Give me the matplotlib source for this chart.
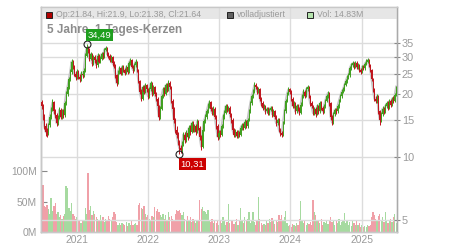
import matplotlib
matplotlib.use('Agg')
import matplotlib.pyplot as plt
import pandas as pd
from matplotlib.patches import Rectangle
from matplotlib.ticker import NullLocator

plt.rcParams['font.family'] = ['Liberation Sans', 'DejaVu Sans']

# ---------------- data (weekly candles) ----------------
first_open = 18.3
close = [
    17.5, 15.5, 14.0, 13.2, 13.0, 14.2, 15.5, 16.8, 18.2, 16.5,
    15.8, 14.5, 15.5, 16.8, 15.5, 16.5, 15.8, 18.0, 20.0, 21.5,
    23.5, 25.5, 28.5, 27.0, 25.0, 24.0, 25.5, 24.2, 23.5, 25.0,
    24.5, 25.8, 30.5, 33.0, 32.5, 29.5, 31.0, 28.0, 30.0, 29.0,
    27.5, 30.5, 28.5, 29.5, 31.0, 30.0, 32.5, 33.0, 31.0, 30.5,
    29.0, 30.0, 28.0, 27.5, 24.5, 22.5, 25.5, 26.5, 25.0, 27.0,
    26.0, 25.2, 26.8, 25.5, 28.0, 29.0, 27.0, 26.0, 27.5, 28.5,
    26.0, 23.0, 20.5, 19.0, 21.5, 20.5, 22.0, 21.0, 19.5, 21.0,
    22.5, 20.0, 21.5, 20.0, 19.0, 17.5, 15.5, 17.0, 19.5, 21.0,
    20.0, 22.0, 21.0, 22.5, 21.5, 18.5, 17.0, 15.0, 13.5, 12.8,
    11.8, 11.0, 10.8, 11.5, 12.8, 12.0, 13.0, 12.5, 13.8, 13.2,
    14.5, 13.5, 14.0, 13.2, 14.7, 13.8, 12.5, 11.2, 13.5, 14.8,
    15.5, 16.5, 17.5, 18.3, 17.0, 16.2, 17.0, 15.5, 14.0, 12.5,
    13.0, 12.8, 14.0, 15.5, 16.2, 17.5, 16.8, 17.2, 16.0, 15.0,
    13.5, 12.8, 13.2, 12.6, 13.0, 12.8, 13.8, 14.2, 13.8, 14.7,
    14.0, 15.0, 16.5, 18.0, 19.5, 20.5, 22.0, 21.5, 20.5, 21.0,
    19.0, 18.0, 17.2, 17.5, 16.5, 17.0, 16.2, 16.8, 17.2, 16.0,
    16.5, 15.5, 14.5, 15.0, 13.5, 13.0, 12.8, 14.5, 16.5, 18.5,
    20.0, 21.0, 20.5, 19.0, 17.5, 18.0, 16.5, 17.5, 17.0, 16.2,
    17.8, 19.5, 20.5, 19.5, 21.0, 21.5, 19.5, 18.0, 17.5, 16.2,
    17.0, 16.0, 17.5, 16.5, 18.0, 17.2, 16.5, 17.5, 18.5, 19.5,
    20.2, 18.0, 15.5, 14.6, 16.0, 16.8, 16.5, 17.5, 18.5, 19.5,
    20.5, 21.0, 22.0, 23.0, 24.0, 24.5, 26.5, 27.5, 28.0, 27.0,
    28.2, 26.8, 27.5, 26.0, 25.5, 27.0, 26.5, 27.8, 28.5, 29.0,
    27.5, 26.0, 23.5, 21.0, 19.0, 18.5, 19.5, 16.5, 15.0, 16.0,
    17.0, 16.5, 17.5, 18.0, 17.2, 18.5, 17.8, 19.0, 18.5, 19.8,
    21.64,
]
high = [
    18.8, 17.9, 16.0, 14.5, 13.8, 14.6, 16.0, 17.3, 19.0, 18.6,
    17.0, 16.2, 15.9, 17.3, 17.1, 17.0, 16.9, 18.4, 20.6, 22.0,
    24.2, 26.2, 29.3, 29.0, 27.5, 25.6, 26.3, 26.0, 24.8, 25.6,
    25.7, 26.5, 31.5, 34.49, 34.0, 33.0, 31.8, 31.5, 30.8, 30.7,
    29.5, 31.2, 31.0, 30.3, 31.8, 31.6, 33.2, 33.8, 33.5, 31.6,
    31.0, 30.8, 30.3, 28.6, 27.8, 25.0, 26.0, 27.2, 26.9, 27.6,
    27.5, 26.5, 27.4, 27.2, 28.6, 29.8, 29.4, 27.5, 28.2, 29.2,
    28.8, 26.4, 23.4, 21.0, 22.0, 22.0, 22.6, 22.4, 21.4, 21.6,
    23.0, 22.8, 22.0, 21.9, 20.4, 19.4, 17.8, 17.5, 20.0, 21.6,
    21.5, 22.6, 22.5, 23.2, 23.0, 21.8, 18.9, 17.3, 15.3, 14.0,
    13.1, 12.1, 11.4, 11.9, 13.2, 13.1, 13.4, 13.4, 14.2, 14.2,
    14.9, 14.8, 14.4, 14.3, 15.1, 15.0, 14.0, 12.7, 13.9, 15.2,
    16.0, 17.0, 18.0, 18.8, 18.6, 17.4, 17.5, 17.3, 15.8, 14.3,
    13.4, 13.4, 14.4, 16.0, 16.7, 17.9, 17.9, 17.6, 17.5, 16.3,
    15.3, 13.8, 13.6, 13.5, 13.4, 13.3, 14.2, 14.6, 14.5, 15.1,
    15.0, 15.4, 16.9, 18.5, 20.0, 21.0, 22.8, 22.6, 21.9, 21.6,
    21.3, 19.4, 18.4, 17.9, 17.8, 17.4, 17.3, 17.2, 17.6, 17.5,
    16.9, 16.8, 15.8, 15.4, 15.3, 13.8, 13.3, 14.9, 16.9, 19.0,
    20.5, 21.5, 21.4, 20.8, 19.3, 18.4, 18.3, 17.9, 17.9, 17.3,
    18.2, 20.0, 21.0, 20.9, 21.6, 22.0, 21.8, 19.8, 18.4, 17.8,
    17.4, 17.3, 17.9, 17.8, 18.4, 18.4, 17.5, 17.9, 18.9, 20.0,
    20.7, 20.5, 18.3, 15.8, 16.4, 17.2, 17.2, 17.9, 18.9, 20.0,
    21.0, 21.5, 22.6, 23.6, 24.6, 25.2, 27.2, 28.2, 28.7, 28.5,
    28.8, 28.6, 28.1, 27.9, 26.5, 27.6, 27.5, 28.4, 29.2, 29.6,
    29.3, 27.9, 26.3, 23.8, 21.4, 19.6, 20.0, 19.8, 16.8, 16.4,
    17.5, 17.4, 17.9, 18.5, 18.4, 18.9, 18.9, 19.4, 19.5, 20.3,
    21.9,
]
low = [
    17.0, 15.0, 13.6, 12.6, 12.5, 12.8, 13.9, 15.2, 16.5, 16.0,
    15.3, 14.1, 14.2, 15.2, 15.1, 15.2, 15.4, 15.6, 17.7, 19.6,
    21.0, 23.0, 25.0, 26.2, 24.4, 23.2, 23.5, 23.6, 22.8, 23.0,
    23.8, 24.0, 25.5, 30.0, 31.5, 28.8, 29.0, 27.3, 27.5, 28.2,
    26.5, 27.0, 28.0, 28.0, 29.0, 29.3, 29.6, 32.0, 30.3, 29.8,
    28.4, 28.5, 27.2, 26.5, 23.8, 21.8, 22.2, 25.0, 24.5, 24.6,
    25.4, 24.6, 24.8, 25.0, 25.2, 27.5, 26.5, 25.3, 25.6, 27.0,
    25.4, 22.5, 20.0, 18.4, 18.7, 20.0, 20.1, 20.5, 19.0, 19.2,
    20.6, 19.5, 19.7, 19.5, 18.5, 17.0, 15.0, 15.2, 16.7, 19.1,
    19.5, 19.7, 20.5, 20.6, 21.0, 18.0, 16.5, 14.5, 13.0, 12.3,
    11.4, 10.31, 10.4, 10.5, 11.3, 11.7, 11.8, 12.1, 12.3, 12.8,
    13.0, 13.1, 13.2, 12.8, 13.0, 13.4, 12.1, 10.8, 11.0, 13.3,
    14.5, 15.2, 16.2, 17.2, 16.6, 15.8, 15.9, 15.1, 13.6, 12.1,
    12.2, 12.4, 12.6, 13.8, 15.2, 16.0, 16.4, 16.5, 15.6, 14.6,
    13.1, 12.4, 12.5, 12.3, 12.3, 12.5, 12.6, 13.5, 13.4, 13.6,
    13.7, 13.8, 14.8, 16.3, 17.8, 19.2, 20.2, 21.0, 20.0, 20.1,
    18.6, 17.6, 16.8, 16.9, 16.1, 16.2, 15.8, 15.9, 16.5, 15.6,
    15.7, 15.1, 14.1, 14.2, 13.1, 12.6, 12.5, 12.6, 14.3, 16.3,
    18.2, 19.7, 20.0, 18.6, 17.1, 17.2, 16.1, 16.2, 16.6, 15.8,
    16.0, 17.6, 19.2, 19.1, 19.3, 20.7, 19.1, 17.6, 17.1, 15.8,
    15.9, 15.6, 15.8, 16.1, 16.3, 16.8, 16.1, 16.3, 17.2, 18.2,
    19.2, 17.6, 15.0, 14.2, 14.4, 15.7, 16.1, 16.2, 17.2, 18.2,
    19.2, 20.1, 20.7, 21.7, 22.6, 23.5, 24.2, 26.0, 27.0, 26.4,
    26.6, 26.2, 26.3, 25.5, 25.0, 25.2, 25.9, 26.1, 27.4, 28.0,
    27.0, 25.5, 23.0, 20.5, 18.5, 18.0, 18.1, 16.0, 14.2, 14.7,
    15.7, 16.0, 16.2, 17.1, 16.8, 17.0, 17.4, 17.5, 18.1, 18.2,
    19.6,
]
volume_m = [
    87, 77, 43, 41, 44, 38, 30, 55, 35, 42,
    48, 30, 33, 25, 28, 22, 26, 30, 76, 72,
    40, 35, 47, 30, 26, 22, 25, 18, 20, 15,
    18, 20, 39, 30, 97, 36, 42, 28, 35, 30,
    25, 22, 18, 28, 20, 24, 17, 22, 19, 26,
    21, 18, 24, 33, 30, 16, 12, 14, 11, 15,
    13, 12, 16, 10, 14, 12, 18, 11, 13, 15,
    12, 45, 47, 40, 38, 42, 30, 25, 28, 22,
    20, 26, 24, 41, 35, 38, 33, 28, 25, 30,
    22, 28, 20, 33, 24, 26, 21, 18, 30, 36,
    34, 36, 31, 28, 32, 22, 18, 26, 20, 24,
    17, 22, 19, 15, 20, 18, 52, 38, 41, 35,
    33, 30, 36, 20, 16, 22, 14, 18, 15, 20,
    12, 20, 14, 25, 18, 11, 16, 46, 15, 18,
    20, 13, 17, 21, 12, 18, 39, 20, 15, 24,
    18, 22, 33, 14, 20, 33, 16, 12, 20, 57,
    22, 14, 11, 13, 12, 18, 15, 21, 17, 23,
    19, 13, 20, 16, 28, 22, 28, 18, 24, 34,
    14, 10, 12, 9, 13, 11, 10, 14, 12, 22,
    51, 18, 14, 20, 11, 15, 13, 17, 12, 52,
    33, 28, 18, 20, 14, 22, 12, 17, 15, 19,
    13, 18, 25, 16, 20, 11, 18, 14, 22, 12,
    16, 20, 31, 14, 18, 12, 16, 10, 20, 14,
    12, 18, 11, 15, 9, 11, 8, 10, 9, 12,
    10, 11, 24, 33, 28, 22, 18, 26, 30, 20,
    25, 16, 33, 20, 14, 18, 22, 17, 24, 30,
    15,
]
dates = pd.date_range('2020-07-03', periods=len(close), freq='W-FRI')
open_ = [first_open] + close[:-1]

year_labels = ['2021', '2022', '2023', '2024', '2025']
price_ticks = [5, 10, 15, 20, 25, 30, 35]
vol_ticks = [0, 50, 100]
vol_tick_labels = ['0M', '50M', '100M']
hi_value, lo_value = 34.49, 10.31
legend_ohlc = 'Op:21.84, Hi:21.9, Lo:21.38, Cl:21.64'
legend_adj = 'volladjustiert'
legend_vol = 'Vol: 14.83M'
title = '5 Jahre, 1-Tages-Kerzen'

# ---------------- styling ----------------
RED, GREEN = '#c0141c', '#3f9f1e'
VRED, VGREEN = '#f0a0a8', '#a6daa0'
GRID = '#dcdcdc'
TXT = '#9a9a9a'

W, H = 450, 250
L, R, T, B = 41, 397, 7, 232
fig = plt.figure(figsize=(W / 100, H / 100), dpi=100)
axv = fig.add_axes([L / W, 1 - B / H, (R - L) / W, (B - T) / H])
axp = axv.twinx()

def px(x, y):
    return ((x - L) / (R - L), (B - y) / (B - T))

up = [c >= o for o, c in zip(open_, close)]

# volume
axv.bar(dates, volume_m, width=6.6, color=[VGREEN if u else VRED for u in up],
        linewidth=0, zorder=2)
axv.set_ylim(0, 369)
axv.set_yticks(vol_ticks)
axv.set_yticklabels(vol_tick_labels)
axv.set_xlim(pd.Timestamp('2020-06-30'), pd.Timestamp('2025-07-01'))
year_pos = [pd.Timestamp(f'{y}-01-01') for y in year_labels]
axv.set_xticks(year_pos)
axv.set_xticklabels(year_labels)

# price
axp.set_yscale('log')
axp.set_ylim(4.386, 51.97)
axp.set_yticks(price_ticks)
axp.set_yticklabels([str(t) for t in price_ticks])
axp.yaxis.set_minor_locator(NullLocator())
axp.yaxis.grid(True, color=GRID, lw=1.0, zorder=1)
axp.set_axisbelow(True)
for d in year_pos:
    axp.axvline(d, color=GRID, lw=1.0, zorder=1)

# legend bar
axp.add_patch(Rectangle(px(L, 19), 1, 12 / (B - T), transform=axp.transAxes,
                        facecolor='#e6e6e6', edgecolor='none', zorder=0.5, clip_on=False))

axp.plot(dates, close, color='#c4c4c4', lw=1.6, zorder=2)
cols = [GREEN if u else RED for u in up]
axp.vlines(dates, low, high, colors=cols, lw=0.7, zorder=3)
axp.bar(dates, [abs(c - o) for o, c in zip(open_, close)],
        bottom=[min(o, c) for o, c in zip(open_, close)],
        width=4.2, color=cols, linewidth=0, zorder=3)

# extremes
ih = high.index(hi_value)
il = low.index(lo_value)
axp.plot(dates[ih], hi_value, 'o', mfc='none', mec='#222222', ms=5, mew=0.8, zorder=6)
axp.plot(dates[il], lo_value, 'o', mfc='none', mec='#222222', ms=5, mew=0.8, zorder=6)
axp.annotate(f'{hi_value:.2f}'.replace('.', ','), (dates[ih], hi_value),
             xytext=(9.5, 6.5), textcoords='offset points', ha='center', va='center',
             fontsize=6.8, color='white', zorder=7,
             bbox=dict(boxstyle='square,pad=0.15', fc='#1f9e1f', ec='none'))
axp.annotate(f'{lo_value:.2f}'.replace('.', ','), (dates[il], lo_value),
             xytext=(9.5, -7.0), textcoords='offset points', ha='center', va='center',
             fontsize=6.8, color='white', zorder=7,
             bbox=dict(boxstyle='square,pad=0.15', fc='#cc0000', ec='none'))

# title and legend texts
axp.text(*px(47, 30), title, transform=axp.transAxes, fontsize=8.5, weight='bold',
         color='#8c8c8c', va='center', ha='left', zorder=5)
for x0, fc, label in [(46, '#b00000', legend_ohlc), (227, '#606060', legend_adj),
                      (307, '#b4e2ac', legend_vol)]:
    axp.add_patch(Rectangle(px(x0, 17.5), 6 / (R - L), 6 / (B - T), transform=axp.transAxes,
                            facecolor=fc, edgecolor='#222222', lw=0.7, zorder=5, clip_on=False))
    axp.text(*px(x0 + 10, 14.3), label, transform=axp.transAxes, fontsize=6.3,
             color=TXT, va='center', ha='left', zorder=5)

# axes cosmetics
for ax in (axv, axp):
    for s in ax.spines.values():
        s.set_color('#c8c8c8')
        s.set_linewidth(1.0)
axv.spines['left'].set_color('#aaaaaa')
axp.spines['right'].set_color('#aaaaaa')
axv.tick_params(axis='y', direction='in', length=4, color='#888888', labelcolor=TXT,
                labelsize=7.4, pad=3)
axv.tick_params(axis='x', length=0, labelcolor=TXT, labelsize=7.4, pad=2)
axp.tick_params(axis='y', direction='inout', length=5, color='#888888', labelcolor=TXT,
                labelsize=7.8, pad=1)

fig.savefig('out.png', dpi=100)
